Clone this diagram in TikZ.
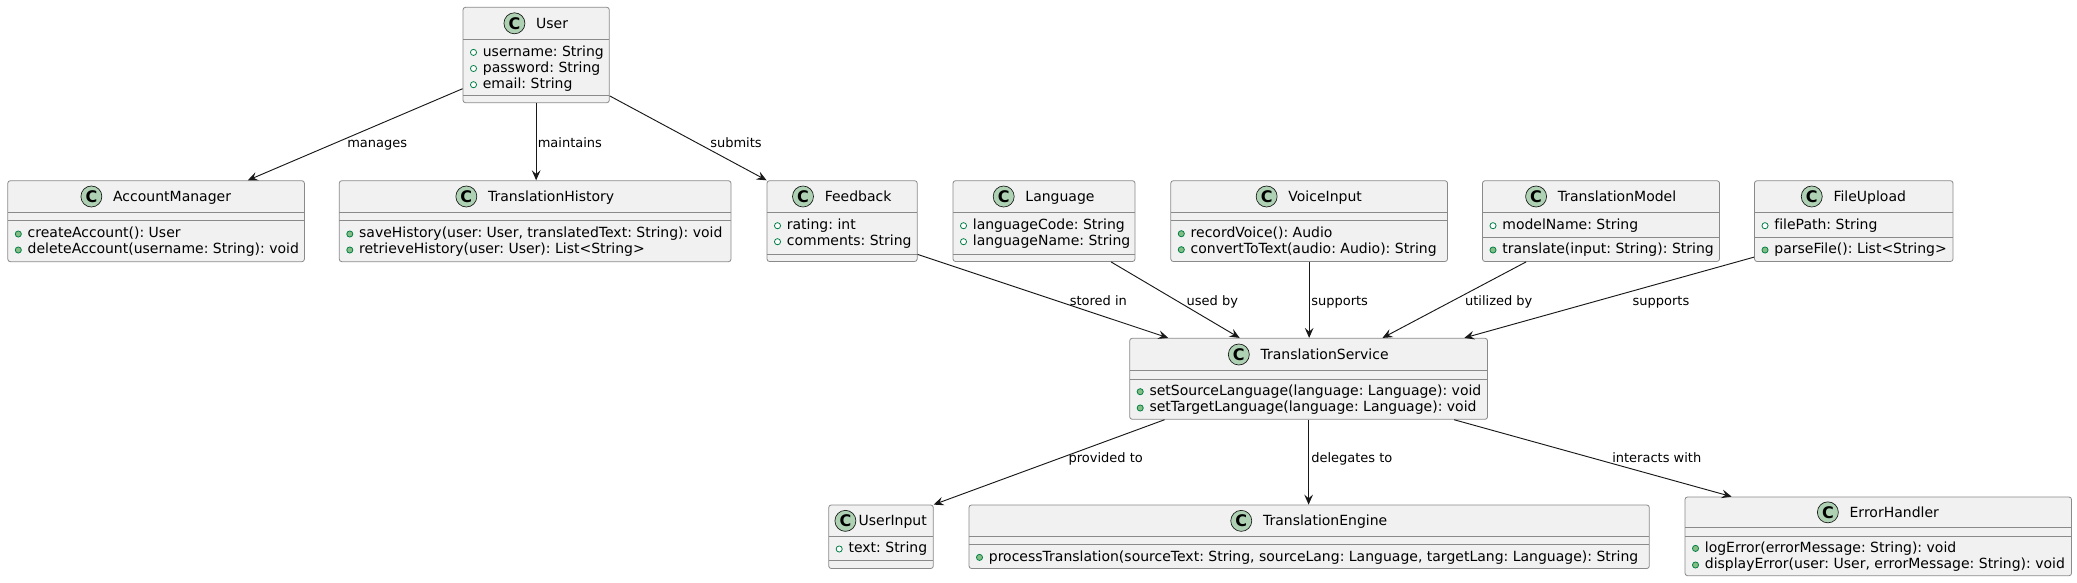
\documentclass[tikz,border=0pt]{standalone}
\usepackage{fontspec}
\setmainfont{DejaVu Sans}[Ligatures=NoCommon]
\usetikzlibrary{fit,calc,arrows.meta}
\definecolor{boxfill}{HTML}{F1F1F1}
\definecolor{boxline}{HTML}{8A8A8A}
\definecolor{darkline}{HTML}{181818}
\definecolor{badgegreen}{HTML}{ADD1B2}
\definecolor{icongreen}{HTML}{038048}
\definecolor{methgreen}{HTML}{84BE84}
\frenchspacing
\tikzset{
  classbox/.style={draw=boxline, fill=boxfill, rounded corners=1.9pt, line width=0.6pt, inner sep=0pt},
  sepline/.style={draw=boxline, line width=0.6pt},
  badge/.style={circle, draw=darkline, fill=badgegreen, minimum size=15.75pt, inner sep=0pt, line width=0.5pt,
    font=\bfseries\fontsize{12pt}{12pt}\selectfont},
  cname/.style={anchor=base, inner sep=0pt, font=\fontsize{10.5pt}{12pt}\selectfont},
  member/.style={anchor=base west, inner sep=0pt, font=\fontsize{10.5pt}{12pt}\selectfont},
  attric/.style={draw=icongreen, fill=white, line width=0.6pt},
  methic/.style={draw=icongreen, fill=methgreen, line width=0.6pt},
  conn/.style={draw=darkline, line width=0.7pt, -{Stealth[length=7.5pt,width=6.5pt,inset=2.8pt]}},
  lbl/.style={anchor=base west, inner sep=0pt, font=\fontsize{9.75pt}{11pt}\selectfont}
}
% #1 name, #2 left, #3 top, #4 right, #5 bottom, #6 title, #7 badge-to-text gap, #8 header line, #9 second line
\newcommand{\ClassBox}[9]{%
  \node[classbox, fit={(#2,#3)(#4,#5)}] (#1) {};
  \draw[sepline] (#2,#8) -- (#4,#8);
  \draw[sepline] (#2,#9) -- (#4,#9);
  \node[cname] (#1-name) at ({(#2+#4)/2+(10.5+#7)/2},{(#3+#8)/2+5}) {#6};
  \node[badge] (#1-badge) at ($(#1-name.base west)+(-#7,-5)$) {C};
}
% #1 node name, #2 left of box, #3 y centre, #4 text
\newcommand{\AttrLine}[4]{%
  \draw[attric] ({#2+10.5},{#3+0.7}) circle[radius=2.3pt];
  \node[member] (#1) at ({#2+19.6},{#3+4.5}) {#4};
}
\newcommand{\MethLine}[4]{%
  \draw[methic] ({#2+10.5},{#3+0.7}) circle[radius=2.3pt];
  \node[member] (#1) at ({#2+19.6},{#3+4.5}) {#4};
}
\begin{document}
\begin{tikzpicture}[x=0.75pt,y=-0.75pt]
\useasboundingbox (0,0) rectangle (2077,582);
\fill[white] (0,0) rectangle (2077,582);

% ---- classes ----
\ClassBox{User}{463}{7.3}{609.3}{102.7}{User}{21.5}{39.3}{95.7}
\AttrLine{User-a1}{463}{51.7}{username: String}
\AttrLine{User-a2}{463}{67.8}{password: String}
\AttrLine{User-a3}{463}{84}{email: String}

\ClassBox{AccountManager}{7.8}{180.7}{304.4}{261.7}{AccountManager}{21.5}{212.3}{220.7}
\MethLine{AM-m1}{7.8}{233.3}{createAccount(): User}
\MethLine{AM-m2}{7.8}{249.3}{deleteAccount(username: String): void}

\ClassBox{TranslationHistory}{339.3}{180.7}{731}{261.7}{TranslationHistory}{21.5}{212.3}{220.7}
\MethLine{TH-m1}{339.3}{233.3}{saveHistory(user: User, translatedText: String): void}
\MethLine{TH-m2}{339.3}{249.3}{retrieveHistory(user: User): List<String>}

\ClassBox{Feedback}{767}{180.7}{917.2}{261.5}{Feedback}{21.5}{212.3}{254}
\AttrLine{FB-a1}{767}{225}{rating: int}
\AttrLine{FB-a2}{767}{241}{comments: String}

\ClassBox{Language}{953}{180.7}{1135}{261.5}{Language}{21.5}{212.3}{254}
\AttrLine{LG-a1}{953}{225}{languageCode: String}
\AttrLine{LG-a2}{953}{241}{languageName: String}

\ClassBox{VoiceInput}{1170.8}{180.7}{1447.5}{261.5}{VoiceInput}{21.5}{212.3}{220.5}
\MethLine{VI-m1}{1170.8}{233}{recordVoice(): Audio}
\MethLine{VI-m2}{1170.8}{249}{convertToText(audio: Audio): String}

\ClassBox{TranslationModel}{1482.5}{180.7}{1719.5}{261.5}{TranslationModel}{21.5}{212.3}{237.3}
\AttrLine{TM-a1}{1482.5}{225}{modelName: String}
\MethLine{TM-m1}{1482.5}{249.3}{translate(input: String): String}

\ClassBox{FileUpload}{1754.5}{180.7}{1953}{261.5}{FileUpload}{21.5}{212.3}{237.3}
\AttrLine{FU-a1}{1754.5}{225}{filePath: String}
\MethLine{FU-m1}{1754.5}{249.3}{parseFile(): List<String>}

\ClassBox{TranslationService}{1129.7}{338.3}{1487.5}{419.3}{TranslationService}{21.5}{370.7}{379}
\MethLine{TS-m1}{1129.7}{391}{setSourceLanguage(language: Language): void}
\MethLine{TS-m2}{1129.7}{407.3}{setTargetLanguage(language: Language): void}

\ClassBox{UserInput}{828.7}{505}{933.3}{568.5}{UserInput}{13}{536.7}{560.7}
\AttrLine{UI-a1}{828.7}{548.3}{text: String}

\ClassBox{TranslationEngine}{969}{505}{1649.3}{568.5}{TranslationEngine}{21.5}{536.7}{544.3}
\MethLine{TE-m1}{969}{556.7}{processTranslation(sourceText: String, sourceLang: Language, targetLang: Language): String}

\ClassBox{ErrorHandler}{1685}{497}{2071.5}{575.7}{ErrorHandler}{21.5}{527.7}{536}
\MethLine{EH-m1}{1685}{547.7}{logError(errorMessage: String): void}
\MethLine{EH-m2}{1685}{564.3}{displayError(user: User, errorMessage: String): void}

% ---- connectors ----
\draw[conn] ($(User.south west)+(0,-14.4)$) -- ($(AccountManager.north west)+(240.4,0)$);
\draw[conn] (User.south) -- (User.south |- TranslationHistory.north);
\draw[conn] ($(User.south east)+(0,-7.2)$) -- (Feedback.north west);
\draw[conn] ($(Feedback.south east)+(0,-7.5)$) -- ($(TranslationService.north west)+(38.9,0)$);
\draw[conn] ($(Language.south west)+(158.4,0)$) -- ($(TranslationService.north west)+(110.3,0)$);
\draw[conn] (VoiceInput.south) -- (VoiceInput.south |- TranslationService.north);
\draw[conn] ($(TranslationModel.south west)+(44,0)$) -- ($(TranslationService.north west)+(253.2,0)$);
\draw[conn] ($(FileUpload.south west)+(0,-4.8)$) -- ($(TranslationService.north east)+(-23.6,0)$);
\draw[conn] ($(TranslationService.south west)+(35.3,0)$) -- (UserInput.north east);
\draw[conn] (TranslationService.south) -- (TranslationService.south |- TranslationEngine.north);
\draw[conn] ($(TranslationService.south east)+(-33.9,0)$) -- ($(ErrorHandler.north west)+(47,0)$);

% ---- connector labels ----
\node[lbl] (l-manages) at (347,147) {manages};
\node[lbl] (l-maintains) at (537.5,147) {maintains};
\node[lbl] (l-submits) at (710,147) {submits};
\node[lbl] (l-stored) at (1069.5,305.5) {stored in};
\node[lbl] (l-used) at (1186.4,305.5) {used by};
\node[lbl] (l-supports1) at (1311,305.5) {supports};
\node[lbl] (l-utilized) at (1464.8,305.5) {utilized by};
\node[lbl] (l-supports2) at (1632.3,305.5) {supports};
\node[lbl] (l-provided) at (1068.3,462) {provided to};
\node[lbl] (l-delegates) at (1311,462) {delegates to};
\node[lbl] (l-interacts) at (1612,462) {interacts with};
\end{tikzpicture}
\end{document}
